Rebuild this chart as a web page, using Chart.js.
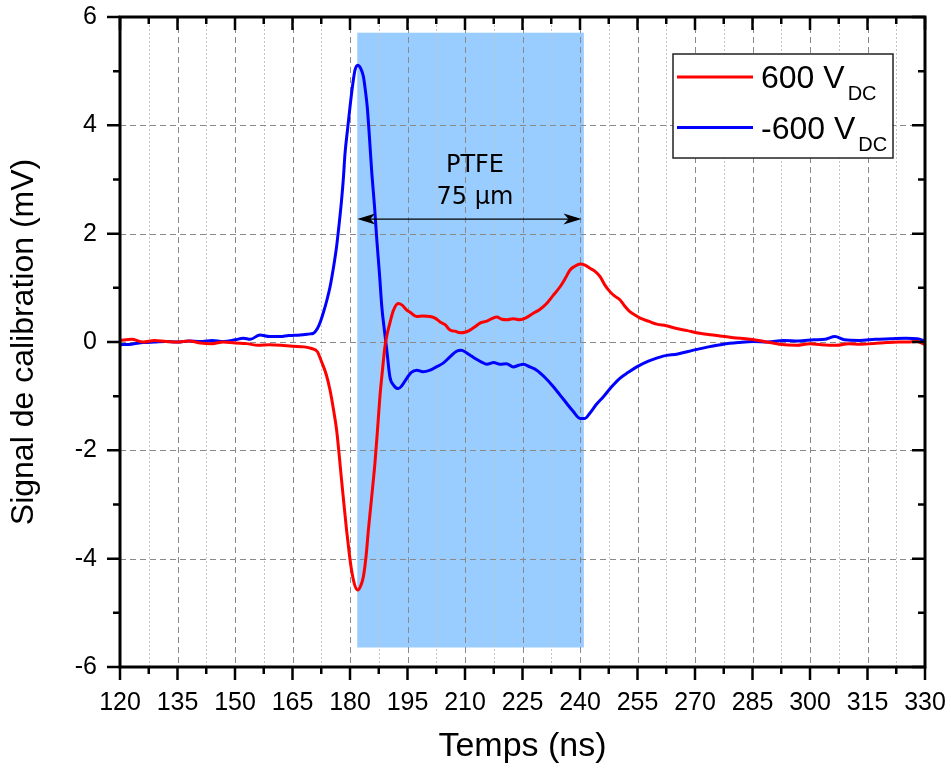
<!DOCTYPE html>
<html>
<head>
<meta charset="utf-8">
<script src="https://cdn.jsdelivr.net/npm/chart.js@4"></script>
<style>
  html, body { margin: 0; padding: 0; background: #fff; }
  canvas { display: block; }
</style>
</head>
<body>
<canvas id="calib" width="951" height="769"></canvas>
<script>
// courbe 600 VDC (rouge)
var tempsRouge = [120,123,126,129,132,135,138,141,144,147,150,153,156,159,162,165,168,170,171.5,172.5,173.8,174.8,175.7,176.5,177.2,177.8,178.5,179.1,179.8,180.4,181.2,182.0,182.8,183.5,184.2,184.8,185.6,186.5,187.2,187.8,188.5,189.1,189.8,190.4,191.3,192.6,193.6,194.8,195.7,197.4,199.0,200.9,202.2,203.5,204.8,206.1,207.4,208.7,210.0,211.3,212.6,213.9,215.5,217.0,218.3,219.6,220.9,222.6,224.3,226.0,227.8,229.5,231.3,233.0,234.8,236.2,237.4,238.7,240.0,241.3,242.6,244.0,245.2,246.5,247.8,249.0,250.4,251.7,253.0,254.3,255.7,258.0,260.0,262.5,265.2,268.0,270.4,273.5,276.5,280.0,284.3,288,292,296.5,300,303,307,310,313,316.5,320,323,325.2,328,330];
var signalRouge = [0.03,0.05,0.00,0.03,0.01,0.00,0.02,-0.02,-0.03,0.00,-0.02,-0.03,-0.06,-0.05,-0.06,-0.08,-0.09,-0.12,-0.18,-0.35,-0.60,-0.89,-1.25,-1.62,-2.10,-2.55,-3.05,-3.47,-3.90,-4.21,-4.48,-4.58,-4.50,-4.33,-3.95,-3.47,-2.90,-2.24,-1.60,-1.01,-0.50,-0.09,0.18,0.35,0.58,0.71,0.68,0.59,0.55,0.47,0.48,0.47,0.44,0.37,0.32,0.22,0.20,0.17,0.18,0.22,0.28,0.35,0.38,0.43,0.46,0.42,0.41,0.43,0.41,0.45,0.53,0.60,0.71,0.86,1.02,1.18,1.33,1.40,1.44,1.42,1.36,1.30,1.21,1.05,0.93,0.85,0.78,0.66,0.56,0.50,0.44,0.38,0.33,0.30,0.25,0.21,0.17,0.14,0.11,0.08,0.05,0.01,-0.04,-0.06,-0.03,-0.05,-0.06,-0.03,-0.04,-0.03,-0.01,0.00,0.00,0.01,-0.05];

// courbe -600 VDC (bleue)
var tempsBleu = [120,123,126,129,132,135,138,141,144,147,150,152.2,154,156.5,159,161.7,164,167,169.6,170.4,171.5,172.3,173.0,174.0,174.8,175.7,176.5,177.2,177.8,178.3,178.7,179.4,180.0,180.7,181.3,182.0,182.8,183.5,184.0,184.5,185.1,185.7,186.4,187.0,187.7,188.3,189.0,189.6,190.4,191.4,192.6,193.6,194.8,196.0,197.4,199.0,200.9,202.5,204.3,206.0,207.8,209.0,210.4,211.7,213.0,214.3,215.7,217.5,219.1,220.8,222.6,224.0,225.2,226.9,228.7,230.8,233.0,234.8,236.5,238.2,240.0,241.3,242.5,244.3,246.1,248.2,250.4,252.6,254.8,258.0,261.7,265.5,269.6,273.5,277.4,281.3,285.2,289,293,297,301,304,306.5,309,313,317,321,325,328,330];
var signalBleu = [-0.05,-0.04,-0.01,0.00,0.01,0.00,0.02,0.01,0.03,0.01,0.04,0.07,0.05,0.13,0.10,0.10,0.12,0.13,0.15,0.16,0.25,0.38,0.53,0.78,1.02,1.38,1.76,2.20,2.62,3.05,3.48,3.95,4.34,4.75,5.02,5.11,5.05,4.90,4.65,4.34,3.75,3.11,2.50,1.88,1.25,0.65,0.20,-0.15,-0.64,-0.80,-0.86,-0.80,-0.67,-0.56,-0.52,-0.55,-0.52,-0.46,-0.39,-0.28,-0.17,-0.15,-0.20,-0.26,-0.32,-0.37,-0.41,-0.38,-0.41,-0.40,-0.46,-0.43,-0.41,-0.46,-0.52,-0.65,-0.82,-0.98,-1.13,-1.28,-1.41,-1.41,-1.32,-1.15,-1.01,-0.83,-0.67,-0.56,-0.46,-0.35,-0.26,-0.22,-0.15,-0.09,-0.04,-0.01,0.01,0.00,0.03,0.02,0.04,0.05,0.10,0.04,0.03,0.05,0.06,0.07,0.06,0.02];

var legendes = ['600 V', '-600 V'];
var couleurs = ['#ff0000', '#0000ff'];

// zone PTFE
var zonePTFE = [181.9, 241.0];      // x début, fin
var zonePTFEy = [-5.64, 5.71];      // y bas, haut
var flecheY = 2.27;
var flecheX = [181.9, 240.4];
var textePTFE = ['PTFE', '75 µm'];
var textePTFEpos = [212.6, 3.13, 2.54]; // x, y ligne 1, y ligne 2

// axes
var xMin = 120, xMax = 330, xPas = 15;
var yMin = -6, yMax = 6, yPas = 2;

const toPoints = (xs, ys) => xs.map((x, i) => ({x: x, y: ys[i]}));

const sansPadding = s => { s.paddingTop = 0; s.paddingBottom = 0; s.paddingLeft = 0; s.paddingRight = 0; };

const cadre = {
    id: 'cadre',
    beforeDatasetsDraw(chart) {
        const ctx = chart.ctx, xs = chart.scales.x, ys = chart.scales.y;
        const a = chart.chartArea;
        ctx.save();
        // rectangle bleu
        ctx.fillStyle = '#99ccff';
        const rx0 = xs.getPixelForValue(zonePTFE[0]), rx1 = xs.getPixelForValue(zonePTFE[1]);
        const ry0 = ys.getPixelForValue(zonePTFEy[1]), ry1 = ys.getPixelForValue(zonePTFEy[0]);
        ctx.fillRect(rx0, ry0, rx1 - rx0, ry1 - ry0);
        // grille mineure x
        ctx.lineWidth = 1;
        ctx.strokeStyle = '#c4c4c4';
        ctx.setLineDash([2, 2]);
        for (let v = xMin + xPas / 2; v < xMax; v += xPas) {
            const px = Math.round(xs.getPixelForValue(v)) + 0.5;
            ctx.beginPath(); ctx.moveTo(px, a.top); ctx.lineTo(px, a.bottom); ctx.stroke();
        }
        // grille majeure
        ctx.strokeStyle = '#8a8a8a';
        ctx.setLineDash([6, 4]);
        for (let v = xMin + xPas; v < xMax; v += xPas) {
            const px = Math.round(xs.getPixelForValue(v)) + 0.5;
            ctx.beginPath(); ctx.moveTo(px, a.top); ctx.lineTo(px, a.bottom); ctx.stroke();
        }
        for (let v = yMin + yPas; v < yMax; v += yPas) {
            const py = Math.round(ys.getPixelForValue(v)) + 0.5;
            ctx.beginPath(); ctx.moveTo(a.left, py); ctx.lineTo(a.right, py); ctx.stroke();
        }
        ctx.restore();
    },
    afterDatasetsDraw(chart) {
        const ctx = chart.ctx, xs = chart.scales.x, ys = chart.scales.y;
        const a = chart.chartArea;
        ctx.save();
        // cadre
        ctx.strokeStyle = '#000';
        ctx.lineWidth = 3;
        ctx.strokeRect(a.left, a.top, a.right - a.left, a.bottom - a.top);
        // graduations
        ctx.lineWidth = 2.5;
        for (let v = xMin; v <= xMax; v += xPas / 2) {
            const major = Math.abs((v - xMin) % xPas) < 1e-6;
            const L = major ? 13 : 7;
            const px = xs.getPixelForValue(v);
            ctx.beginPath();
            ctx.moveTo(px, a.bottom); ctx.lineTo(px, a.bottom + L);
            ctx.moveTo(px, a.top); ctx.lineTo(px, a.top + L);
            ctx.stroke();
        }
        for (let v = yMin; v <= yMax; v += yPas / 2) {
            const major = Math.abs((v - yMin) % yPas) < 1e-6;
            const L = major ? 13 : 7;
            const py = ys.getPixelForValue(v);
            ctx.beginPath();
            ctx.moveTo(a.left - L, py); ctx.lineTo(a.left, py);
            ctx.moveTo(a.right - L, py); ctx.lineTo(a.right, py);
            ctx.stroke();
        }
        // flèche double
        const fy = ys.getPixelForValue(flecheY);
        const f0 = xs.getPixelForValue(flecheX[0]), f1 = xs.getPixelForValue(flecheX[1]);
        ctx.lineWidth = 1.3;
        ctx.beginPath(); ctx.moveTo(f0 + 4, fy); ctx.lineTo(f1 - 4, fy); ctx.stroke();
        ctx.fillStyle = '#000';
        ctx.beginPath();
        ctx.moveTo(f0, fy); ctx.lineTo(f0 + 18, fy - 5.5); ctx.lineTo(f0 + 13, fy); ctx.lineTo(f0 + 18, fy + 5.5); ctx.closePath();
        ctx.moveTo(f1, fy); ctx.lineTo(f1 - 18, fy - 5.5); ctx.lineTo(f1 - 13, fy); ctx.lineTo(f1 - 18, fy + 5.5); ctx.closePath();
        ctx.fill();
        // texte PTFE
        ctx.font = '24px "DejaVu Sans"';
        ctx.textAlign = 'center';
        ctx.textBaseline = 'alphabetic';
        const tx = xs.getPixelForValue(textePTFEpos[0]);
        ctx.fillText(textePTFE[0], tx, ys.getPixelForValue(textePTFEpos[1]));
        ctx.fillText(textePTFE[1], tx, ys.getPixelForValue(textePTFEpos[2]));
        // légende
        const lx = 673, ly = 54, lw = 220, lh = 104;
        ctx.fillStyle = '#fff';
        ctx.fillRect(lx, ly, lw, lh);
        ctx.strokeStyle = '#222';
        ctx.lineWidth = 1.5;
        ctx.strokeRect(lx, ly, lw, lh);
        ctx.textAlign = 'left';
        const lignesY = [77, 127.5];
        legendes.forEach((t, i) => {
            ctx.strokeStyle = couleurs[i];
            ctx.lineWidth = 3;
            ctx.beginPath(); ctx.moveTo(677, lignesY[i]); ctx.lineTo(753, lignesY[i]); ctx.stroke();
            ctx.fillStyle = '#000';
            ctx.font = '32px "Liberation Sans"';
            ctx.fillText(t, 761, lignesY[i] + 11);
            const w = ctx.measureText(t).width;
            ctx.font = '20px "Liberation Sans"';
            ctx.fillText('DC', 761 + w + 3, lignesY[i] + 23);
        });
        ctx.restore();
    }
};

const police = {family: '"Liberation Sans", Arial, sans-serif'};

new Chart('calib', {
    type: 'line',
    data: {
        datasets: [{
            label: legendes[0],
            data: toPoints(tempsRouge, signalRouge),
            borderColor: couleurs[0],
            borderWidth: 3,
            pointRadius: 0,
            cubicInterpolationMode: 'monotone'
        }, {
            label: legendes[1],
            data: toPoints(tempsBleu, signalBleu),
            borderColor: couleurs[1],
            borderWidth: 3,
            pointRadius: 0,
            cubicInterpolationMode: 'monotone'
        }]
    },
    options: {
        responsive: false,
        animation: false,
        layout: {padding: {top: 17, right: 26, left: 0, bottom: 0}},
        plugins: {
            legend: {display: false},
            tooltip: {enabled: false}
        },
        scales: {
            x: {
                type: 'linear', min: xMin, max: xMax,
                ticks: {stepSize: xPas, color: '#000', font: {...police, size: 25}, padding: 21, maxRotation: 0, autoSkip: false},
                grid: {display: false, drawTicks: false},
                border: {display: false},
                title: {display: true, text: 'Temps (ns)', color: '#000', font: {...police, size: 34}, padding: {top: 2, bottom: 2}},
                afterFit: s => { s.height = 102; sansPadding(s); }
            },
            y: {
                type: 'linear', min: yMin, max: yMax,
                ticks: {stepSize: yPas, color: '#000', font: {...police, size: 25}, padding: 23},
                grid: {display: false, drawTicks: false},
                border: {display: false},
                title: {display: true, text: 'Signal de calibration (mV)', color: '#000', font: {...police, size: 32}, padding: {top: 5, bottom: 5}},
                afterFit: s => { s.width = 120; sansPadding(s); }
            }
        }
    },
    plugins: [cadre]
});
</script>
</body>
</html>
